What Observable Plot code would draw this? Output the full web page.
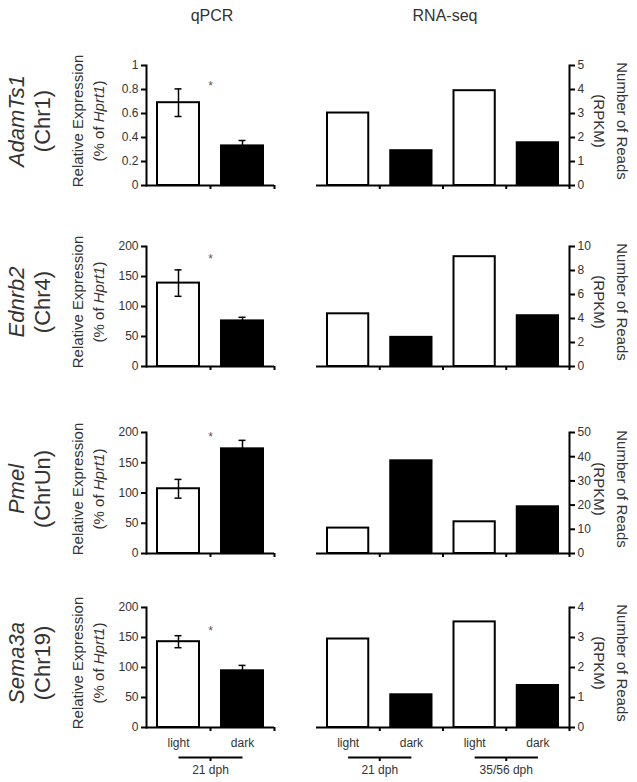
<!DOCTYPE html>
<html><head><meta charset="utf-8">
<script src="https://cdn.jsdelivr.net/npm/d3@7"></script>
<script src="https://cdn.jsdelivr.net/npm/@observablehq/plot@0.6"></script>
<style>
html,body{margin:0;padding:0;background:#fff;}
#chart{position:relative;width:637px;height:782px;overflow:hidden;font-family:"Liberation Sans",Arial,sans-serif;color:#333;}
#chart svg{position:absolute;overflow:visible;}
.lbl{position:absolute;white-space:nowrap;text-align:center;transform-origin:center center;}
</style></head><body><div id="chart"></div>
<script>
// ---- data ----
const genes = ["AdamTs1", "Ednrb2", "Pmel", "Sema3a"];
const chromosomes = ["Chr1", "Chr4", "ChrUn", "Chr19"];
const conditions = ["light", "dark"];
const ageGroups = ["21 dph", "35/56 dph"];
const panelTitles = ["qPCR", "RNA-seq"];
const qpcrMean = [[0.69, 0.33], [139, 76], [107, 173], [143, 94.5]];
const qpcrErr = [[0.115, 0.045], [22, 6], [15.5, 14], [10, 9]];
const qpcrTicks = [[0, 0.2, 0.4, 0.6, 0.8, 1], [0, 50, 100, 150, 200], [0, 50, 100, 150, 200], [0, 50, 100, 150, 200]];
const sigMarkHeight = [0.83, 179, 192, 161];
const rnaValues = [[3.02, 1.45, 3.95, 1.78], [4.39, 2.43, 9.15, 4.23], [10.5, 38.3, 13.1, 19.3], [2.95, 1.09, 3.52, 1.40]];
const rnaTicks = [[0, 1, 2, 3, 4, 5], [0, 2, 4, 6, 8, 10], [0, 10, 20, 30, 40, 50], [0, 1, 2, 3, 4]];

// ---- layout ----
const FONT = '"Liberation Sans", Arial, sans-serif';
const rowFrames = [{top: 65, bottom: 185}, {top: 246, bottom: 366}, {top: 432, bottom: 553}, {top: 607, bottom: 727}];
const chart = document.getElementById("chart");

function place(svg, left, top) {
  svg.style.left = left + "px";
  svg.style.top = top + "px";
  chart.appendChild(svg);
}
function label(html, cx, cy, rot, fontSize, lineHeight, extra = "") {
  const d = document.createElement("div");
  d.className = "lbl";
  d.innerHTML = html;
  d.style.cssText += `left:${cx}px;top:${cy}px;font-size:${fontSize}px;line-height:${lineHeight}px;transform:translate(-50%,-50%) rotate(${rot}deg);${extra}`;
  chart.appendChild(d);
}

const style = {fontFamily: FONT, fontSize: "12px", background: "transparent", overflow: "visible", color: "#333"};

function qpcrPlot(i) {
  const F = rowFrames[i];
  const mt = 12, mb = i === 3 ? 60 : 10;
  const width = 300, ml = 146, mr = 26;
  const half = (width - ml - mr) / conditions.length / 2;
  const data = conditions.map((c, j) => ({cond: c, mean: qpcrMean[i][j], err: qpcrErr[i][j]}));
  const groups = [{a: conditions[0], b: conditions[1], label: ageGroups[0]}];
  const marks = [
    Plot.barY(data, {x: "cond", y: "mean", fill: "cond", stroke: "black", strokeWidth: 2, insetLeft: 11, insetRight: 11}),
    Plot.ruleX(data, {x: "cond", y1: d => d.mean - d.err, y2: d => d.mean + d.err, stroke: "black", strokeWidth: 1.5}),
    Plot.tickY(data, {x: "cond", y: d => d.mean + d.err, insetLeft: half - 3.5, insetRight: half - 3.5, stroke: "black", strokeWidth: 1.5}),
    Plot.tickY(data, {x: "cond", y: d => d.mean - d.err, insetLeft: half - 3.5, insetRight: half - 3.5, stroke: "black", strokeWidth: 1.5}),
    Plot.text([sigMarkHeight[i]], {x: () => conditions[0], y: d => d, text: () => "*", dx: half, fontSize: 12, fill: "#555"}),
    Plot.ruleY([0], {stroke: "black", strokeWidth: 2}),
    Plot.ruleX(conditions, {x: d => d, y1: 0, y2: 0, dx: half, insetBottom: -4, stroke: "black", strokeWidth: 2}),
    Plot.frame({anchor: "left", stroke: "black", strokeWidth: 2}),
    Plot.axisY({anchor: "left", label: null, ticks: qpcrTicks[i], tickFormat: d => String(d), tickSize: 5, tickPadding: 3, stroke: "black", strokeWidth: 2, fill: "#333", fontSize: 12})
  ];
  if (i === 3) {
    marks.push(
      Plot.axisX({label: null, tickSize: 0, tickPadding: 11, fill: "#333", fontSize: 12}),
      Plot.link(groups, {x1: "a", x2: "b", y1: 0, y2: 0, dy: 30, stroke: "black", strokeWidth: 2}),
      Plot.ruleX(groups, {x: "a", y1: 0, y2: 0, dx: half, dy: 30, insetBottom: -4, stroke: "black", strokeWidth: 2}),
      Plot.text(groups, {x: "a", y: 0, text: "label", dx: half, dy: 43, fontSize: 12, fill: "#333"})
    );
  }
  const svg = Plot.plot({
    width, height: F.bottom - F.top + mt + mb,
    marginLeft: ml, marginRight: mr, marginTop: mt, marginBottom: mb,
    style,
    x: {type: "band", domain: conditions, padding: 0, round: false, axis: null, label: null},
    y: {domain: [0, qpcrTicks[i][qpcrTicks[i].length - 1]], axis: null, label: null},
    color: {domain: conditions, range: ["white", "black"]},
    marks
  });
  place(svg, 0, F.top - mt);
}

function rnaPlot(i) {
  const F = rowFrames[i];
  const mt = 12, mb = i === 3 ? 60 : 10;
  const width = 337, ml = 16, mr = 68;
  const data = ageGroups.flatMap((g, gi) => conditions.map((c, j) => ({key: g + "|" + c, group: g, cond: c, value: rnaValues[i][gi * 2 + j]})));
  const keys = data.map(d => d.key);
  const half = (width - ml - mr) / keys.length / 2;
  const groups = ageGroups.map(g => ({a: g + "|" + conditions[0], b: g + "|" + conditions[1], label: g}));
  const marks = [
    Plot.barY(data, {x: "key", y: "value", fill: "cond", stroke: "black", strokeWidth: 2, insetLeft: 11, insetRight: 11}),
    Plot.ruleY([0], {stroke: "black", strokeWidth: 2}),
    Plot.ruleX(keys, {x: d => d, y1: 0, y2: 0, dx: half, insetBottom: -4, stroke: "black", strokeWidth: 2}),
    Plot.frame({anchor: "right", stroke: "black", strokeWidth: 2}),
    Plot.axisY({anchor: "right", label: null, ticks: rnaTicks[i], tickFormat: d => String(d), tickSize: 5, tickPadding: 3, stroke: "black", strokeWidth: 2, fill: "#333", fontSize: 12})
  ];
  if (i === 3) {
    marks.push(
      Plot.axisX({label: null, tickSize: 0, tickPadding: 11, tickFormat: k => k.split("|")[1], fill: "#333", fontSize: 12}),
      Plot.link(groups, {x1: "a", x2: "b", y1: 0, y2: 0, dy: 30, stroke: "black", strokeWidth: 2}),
      Plot.ruleX(groups, {x: "a", y1: 0, y2: 0, dx: half, dy: 30, insetBottom: -4, stroke: "black", strokeWidth: 2}),
      Plot.text(groups, {x: "a", y: 0, text: "label", dx: half, dy: 43, fontSize: 12, fill: "#333"})
    );
  }
  const svg = Plot.plot({
    width, height: F.bottom - F.top + mt + mb,
    marginLeft: ml, marginRight: mr, marginTop: mt, marginBottom: mb,
    style,
    x: {type: "band", domain: keys, padding: 0, round: false, axis: null, label: null},
    y: {domain: [0, rnaTicks[i][rnaTicks[i].length - 1]], axis: null, label: null},
    color: {domain: conditions, range: ["white", "black"]},
    marks
  });
  place(svg, 300, F.top - mt);
}

for (let i = 0; i < genes.length; i++) {
  qpcrPlot(i);
  rnaPlot(i);
  const F = rowFrames[i];
  const cy = (F.top + F.bottom) / 2 - 4;
  label(`<i>${genes[i]}</i><br>(${chromosomes[i]})`, 30, cy, -90, 22, 26);
  label(`Relative Expression<br>(% of <i>Hprt1</i>)`, 87.5, cy, -90, 15, 21);
  label(`Number of Reads<br>(RPKM)`, 611, cy, 90, 15, 23);
}
// column titles
const t1 = document.createElement("div");
t1.className = "lbl"; t1.textContent = panelTitles[0];
t1.style.cssText += "left:212px;top:16px;font-size:16px;transform:translate(-50%,-50%);";
chart.appendChild(t1);
const t2 = document.createElement("div");
t2.className = "lbl"; t2.textContent = panelTitles[1];
t2.style.cssText += "left:445px;top:16px;font-size:16px;transform:translate(-50%,-50%);";
chart.appendChild(t2);
</script></body></html>
